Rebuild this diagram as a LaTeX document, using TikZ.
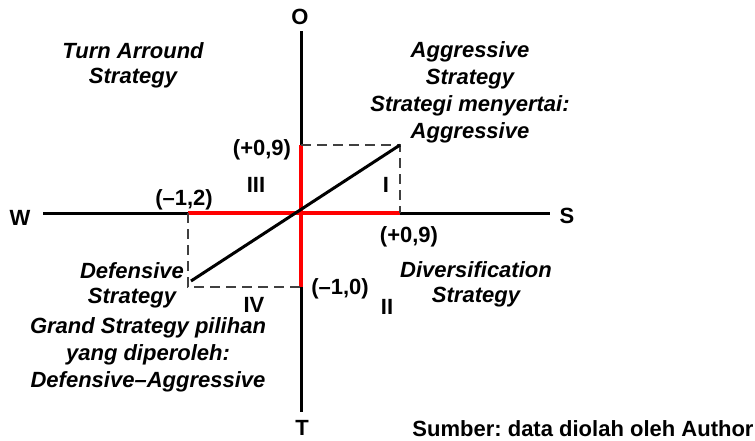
\documentclass[tikz,border=0pt]{standalone}
\usepackage{fontspec}
\setmainfont{Liberation Sans}
\frenchspacing
\usepackage{tikz}
\usetikzlibrary{positioning, calc}

\begin{document}
\begin{tikzpicture}[
    x=1pt, y=-1pt,
    axisline/.style={line width=3pt, black},
    redline/.style={line width=3.4pt, red},
    dashline/.style={line width=2.4pt, black!75, dash pattern=on 10pt off 6pt},
    diagline/.style={line width=3pt, black},
    axislabel/.style={font=\bfseries\fontsize{22}{26}\selectfont, inner sep=0pt},
    coordlabel/.style={font=\bfseries\fontsize{22}{26}\selectfont, inner sep=0pt},
    quadlabel/.style={font=\bfseries\fontsize{22}{26}\selectfont, inner sep=0pt},
    stratlabel/.style={font=\bfseries\itshape\fontsize{22}{25}\selectfont, align=center, inner sep=0pt},
    grandlabel/.style={font=\bfseries\itshape\fontsize{22}{27}\selectfont, align=center, inner sep=0pt},
]
\useasboundingbox (0,0) rectangle (755,440);

% axis ends and key points
\coordinate (origin) at (301,213);
\coordinate (top) at (301,31);
\coordinate (bottom) at (301,412);
\coordinate (left) at (43,213);
\coordinate (right) at (550,213);
\coordinate (sPt) at (400,213);
\coordinate (wPt) at (188,213);
\coordinate (oPt) at (301,145);
\coordinate (tPt) at (301,287);
\coordinate (cornerI) at (400,145);
\coordinate (cornerIV) at (188,287);
\coordinate (diagEnd) at (191,281);

% axes
\draw[axisline] (top) -- (bottom);
\draw[axisline] (left) -- (right);

\node[axislabel] (lblO) at (300,17) {O};
\node[axislabel] (lblT) at (302,428) {T};
\node[axislabel] (lblW) at (20,218) {W};
\node[axislabel] (lblS) at (567,216) {S};

% scores
\draw[redline] (wPt) -- (sPt);
\draw[redline] (oPt) -- (tPt);

\draw[dashline] (oPt) -- (cornerI) -- (sPt);
\draw[dashline] (wPt) -- (cornerIV) -- (tPt);

\draw[diagline] (cornerI) -- (diagEnd);

\node[coordlabel] (valO) at (262,150) {(+0,9)};
\node[coordlabel] (valW) at (184,200) {(--1,2)};
\node[coordlabel] (valS) at (409,237) {(+0,9)};
\node[coordlabel] (valT) at (340,289) {(--1,0)};

% quadrants
\node[quadlabel] (qI) at (386,185) {I};
\node[quadlabel] (qII) at (387,307) {II};
\node[quadlabel] (qIII) at (256,185) {III};
\node[quadlabel] (qIV) at (254,305) {IV};

% strategies
\node[stratlabel] (turn) at (133,65) {Turn Arround\\Strategy};
\node[grandlabel] (aggr) at (470,92) {Aggressive\\Strategy\\Strategi menyertai:\\Aggressive};
\node[stratlabel] (defn) at (132,285) {Defensive\\Strategy};
\node[stratlabel] (divr) at (476,284) {Diversification\\Strategy};
\node[grandlabel] (grand) at (148,355) {Grand Strategy pilihan\\yang diperoleh:\\Defensive--Aggressive};

\node[axislabel] (source) at (583,429) {Sumber: data diolah oleh Author};

\end{tikzpicture}
\end{document}
